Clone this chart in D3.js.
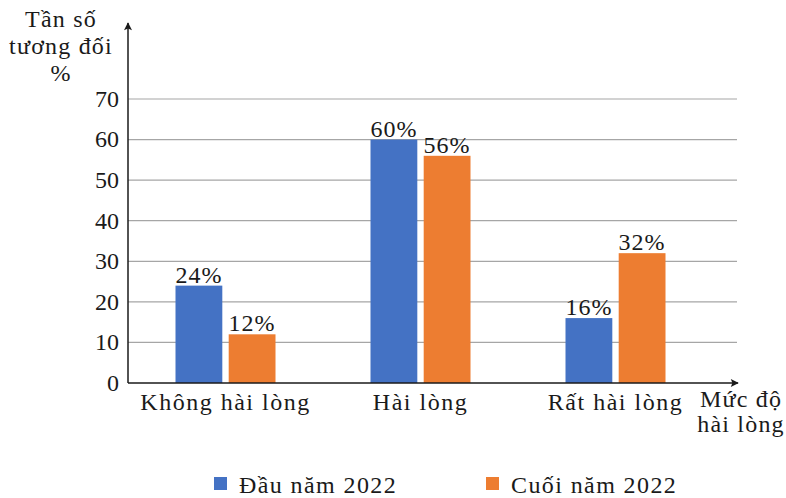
<!DOCTYPE html>
<html>
<head>
<meta charset="utf-8">
<script src="https://cdn.jsdelivr.net/npm/d3@7"></script>
<style>
  body { margin: 0; background: #fff; }
  text { font-family: "Liberation Serif", "Times New Roman", serif; fill: #1a1a1a; }
</style>
</head>
<body>
<div id="chart"></div>
<script>
// data
var categories = ["Không hài lòng", "Hài lòng", "Rất hài lòng"];
var seriesNames = ["Đầu năm 2022", "Cuối năm 2022"];
var dauNam = [24, 60, 16];
var cuoiNam = [12, 56, 32];
var yTicks = [0, 10, 20, 30, 40, 50, 60, 70];

var colors = ["#4472C4", "#ED7D31"];

var svgWidth = 786;
var svgHeight = 498;

var svg = d3.select("#chart")
  .append("svg")
  .attr("width", svgWidth)
  .attr("height", svgHeight);

var x0 = 128, x1 = 737;
var yScale = d3.scaleLinear()
  .domain([0, 70])
  .range([383, 99]);

var xScale = d3.scaleBand()
  .domain(categories)
  .range([128, 713]);

var xInner = d3.scaleBand()
  .domain(seriesNames)
  .range([xScale.bandwidth() / 2 - 50, xScale.bandwidth() / 2 + 50])
  .paddingInner(0.12);

// gridlines
svg.append("g")
  .selectAll("line")
  .data(yTicks.filter(d => d > 0))
  .enter()
  .append("line")
  .attr("x1", x0)
  .attr("x2", x1)
  .attr("y1", d => yScale(d))
  .attr("y2", d => yScale(d))
  .attr("stroke", "#a6a6a6")
  .attr("stroke-width", 1.2);

// y tick labels
svg.append("g")
  .selectAll("text")
  .data(yTicks)
  .enter()
  .append("text")
  .attr("x", 119)
  .attr("y", d => yScale(d))
  .attr("dy", "0.33em")
  .attr("text-anchor", "end")
  .attr("font-size", "24px")
  .text(d => d);

// bars
var rows = categories.map(function(c, i) {
  return [
    { cat: c, s: seriesNames[0], v: dauNam[i], k: 0 },
    { cat: c, s: seriesNames[1], v: cuoiNam[i], k: 1 }
  ];
});

var groups = svg.append("g")
  .selectAll("g")
  .data(rows)
  .enter()
  .append("g")
  .attr("transform", d => `translate(${xScale(d[0].cat)},0)`);

groups.selectAll("rect")
  .data(d => d)
  .enter()
  .append("rect")
  .attr("x", d => xInner(d.s))
  .attr("width", xInner.bandwidth())
  .attr("y", d => yScale(d.v))
  .attr("height", d => yScale(0) - yScale(d.v))
  .attr("fill", d => colors[d.k]);

groups.selectAll(".val")
  .data(d => d)
  .enter()
  .append("text")
  .attr("class", "val")
  .attr("x", d => xInner(d.s) + xInner.bandwidth() / 2)
  .attr("y", d => yScale(d.v) - 3)
  .attr("text-anchor", "middle")
  .attr("font-size", "24px")
  .attr("letter-spacing", "1px")
  .text(d => d.v + "%");

// axes with arrows
svg.append("defs").append("marker")
  .attr("id", "arrow")
  .attr("viewBox", "0 0 10 10")
  .attr("refX", 9)
  .attr("refY", 5)
  .attr("markerWidth", 16)
  .attr("markerHeight", 8)
  .attr("markerUnits", "userSpaceOnUse")
  .attr("orient", "auto")
  .append("path")
  .attr("d", "M0,0 L10,5 L0,10 L2,5 Z")
  .attr("fill", "#1a1a1a");

svg.append("line")
  .attr("x1", x0).attr("x2", x0)
  .attr("y1", yScale(0)).attr("y2", 23)
  .attr("stroke", "#1a1a1a")
  .attr("stroke-width", 1.5)
  .attr("marker-end", "url(#arrow)");

svg.append("line")
  .attr("x1", x0).attr("x2", 738)
  .attr("y1", yScale(0)).attr("y2", yScale(0))
  .attr("stroke", "#1a1a1a")
  .attr("stroke-width", 1.5)
  .attr("marker-end", "url(#arrow)");

// category labels
svg.append("g")
  .selectAll("text")
  .data(categories)
  .enter()
  .append("text")
  .attr("x", d => xScale(d) + xScale.bandwidth() / 2)
  .attr("y", 410)
  .attr("text-anchor", "middle")
  .attr("font-size", "24px")
  .attr("letter-spacing", "1.5px")
  .text(d => d);

// axis titles
var yTitle = svg.append("text")
  .attr("text-anchor", "middle")
  .attr("font-size", "24px")
  .attr("letter-spacing", "1.2px");
["Tần số", "tương đối", "%"].forEach(function(t, i) {
  yTitle.append("tspan").attr("x", 61).attr("y", 27 + i * 27).text(t);
});

var xTitle = svg.append("text")
  .attr("text-anchor", "middle")
  .attr("font-size", "24px")
  .attr("letter-spacing", "1.2px");
["Mức độ", "hài lòng"].forEach(function(t, i) {
  xTitle.append("tspan").attr("x", 741).attr("y", 407 + i * 25).text(t);
});

// legend
var legend = svg.append("g")
  .selectAll("g")
  .data(seriesNames)
  .enter()
  .append("g")
  .attr("transform", (d, i) => `translate(${[214, 486][i]},477)`);

legend.append("rect")
  .attr("width", 13)
  .attr("height", 13)
  .attr("fill", (d, i) => colors[i]);

legend.append("text")
  .attr("x", 25)
  .attr("y", 16)
  .attr("font-size", "24px")
  .attr("letter-spacing", "1.4px")
  .text(d => d);
</script>
</body>
</html>
